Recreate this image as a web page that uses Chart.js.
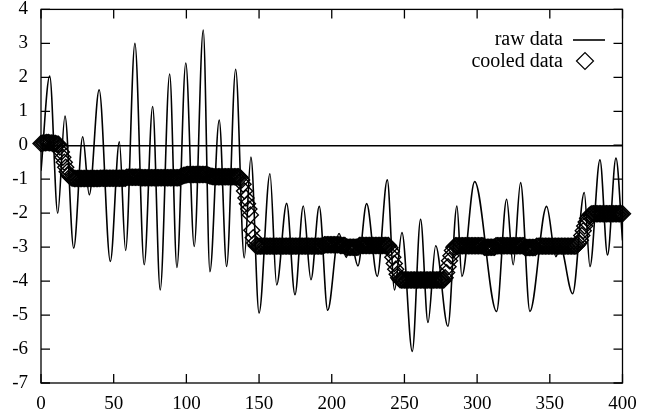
<!DOCTYPE html>
<html><head><meta charset="utf-8">
<script src="https://cdn.jsdelivr.net/npm/chart.js@4.4.1/dist/chart.umd.min.js"></script>
<style>html,body{margin:0;padding:0;background:#fff}</style>
</head><body>
<canvas id="c" width="660" height="418"></canvas>
<script>
const seriesNames = ['raw data', 'cooled data'];
const xTickLabels = [0, 50, 100, 150, 200, 250, 300, 350, 400];
const yTickLabels = [-7, -6, -5, -4, -3, -2, -1, 0, 1, 2, 3, 4];

// raw data: turning points
const rawX = [0, 6, 11.5, 16.5, 22.5, 28.7, 33.2, 40, 47.7, 53.9, 58.2, 64.6, 71, 76.8, 82, 88.5, 93.5, 99.6,
  105.4, 111.6, 116.2, 122.6, 127.7, 133.9, 139.8, 144.4, 150, 157.5, 162.1, 169, 174.7, 180.4, 185.7, 191.4,
  197.2, 205, 210, 213, 218, 224, 231.3, 238.2, 243.2, 248.3, 255.4, 261.1, 266.2, 271.5, 279.9, 286.1, 289.5,
  298.3, 313.4, 320.3, 324.8, 329.9, 336.3, 347.8, 354.2, 357, 365.7, 373.7, 377.6, 384.5, 389.7, 395.5, 400];
const rawY = [-0.75, 2.04, -2.0, 0.86, -3.03, 0.25, -1.46, 1.63, -3.42, 0.1, -3.1, 3.0, -3.52, 1.14, -4.26, 2.1, -3.6, 2.42,
  -2.98, 3.39, -3.72, 0.74, -3.57, 2.24, -3.32, -0.35, -4.94, -0.84, -4.11, -1.71, -4.4, -1.79, -3.96, -1.8,
  -4.86, -2.6, -3.3, -2.8, -3.55, -1.72, -3.86, -1.02, -4.26, -2.57, -6.07, -2.18, -5.22, -2.96, -5.33, -1.79, -3.86,
  -1.07, -4.89, -1.59, -3.52, -1.1, -4.89, -1.8, -3.28, -2.95, -4.37, -1.39, -3.57, -0.43, -3.23, -0.38, -2.8];

// cooled data: one value per x = 0..400
const cooledY = [
  0.05,0.06,0.07,0.07,0.08,0.08,0.07,0.07,0.06,0.05,0.05,0.04,0.03,
  -0.05,-0.2,-0.35,-0.5,-0.65,-0.78,-0.87,-0.93,-0.96,-0.97,-0.98,-0.98,
  -0.98,-0.98,-0.98,-0.98,-0.98,-0.98,-0.98,-0.98,-0.98,-0.98,
  -0.98,-0.98,-0.98,-0.98,-0.98,-0.98,
  -0.97,-0.97,-0.97,-0.97,-0.97,-0.97,-0.97,-0.97,-0.97,-0.97,
  -0.97,-0.97,-0.97,-0.97,-0.97,-0.97,-0.97,-0.97,
  -0.94,-0.94,-0.94,-0.94,-0.94,-0.94,-0.94,-0.94,-0.94,-0.94,
  -0.96,-0.96,-0.96,-0.96,-0.96,-0.96,-0.96,-0.96,-0.96,-0.96,
  -0.96,-0.96,-0.96,-0.96,-0.96,-0.96,-0.96,-0.96,-0.96,-0.96,
  -0.96,-0.96,-0.96,-0.96,-0.96,-0.96,-0.96,
  -0.93,-0.91,-0.89,-0.88,-0.87,
  -0.86,-0.86,-0.86,-0.86,-0.86,-0.86,-0.86,-0.86,-0.86,-0.86,
  -0.86,-0.86,-0.86,-0.86,
  -0.88,-0.9,-0.91,-0.92,-0.93,-0.93,
  -0.93,-0.93,-0.93,-0.93,-0.93,-0.93,-0.93,-0.93,-0.93,-0.93,
  -0.93,-0.93,-0.93,-0.93,-0.93,-0.93,
  -0.95,-1.02,-1.15,-1.35,-1.55,-1.72,-1.88,-2.05,-2.5,-2.72,-2.88,-2.96,
  -2.97,-2.97,-2.97,-2.97,-2.97,-2.97,-2.97,-2.97,-2.97,-2.97,
  -2.97,-2.97,-2.97,-2.97,-2.97,-2.97,-2.97,-2.97,-2.97,-2.97,
  -2.97,-2.97,-2.97,-2.97,-2.97,-2.97,-2.97,-2.97,-2.97,-2.97,
  -2.97,-2.97,-2.97,-2.97,-2.97,-2.97,-2.97,-2.97,-2.97,-2.97,
  -2.97,-2.97,-2.97,-2.97,-2.97,-2.97,
  -2.93,-2.93,-2.93,-2.93,-2.93,-2.93,-2.93,-2.93,-2.93,-2.93,
  -2.93,
  -2.95,-2.95,-2.95,-2.95,
  -3.0,-3.0,-3.0,-3.0,-3.0,-3.0,-3.0,-3.0,-3.0,
  -2.95,-2.95,-2.95,-2.95,-2.95,-2.95,-2.95,-2.95,-2.95,-2.95,
  -2.95,-2.95,-2.95,-2.95,-2.95,-2.95,-2.95,-2.95,-2.95,-2.95,
  -2.95,
  -3.02,-3.12,-3.3,-3.48,-3.65,-3.8,-3.9,-3.96,
  -3.97,-3.97,-3.97,-3.97,-3.97,-3.97,-3.97,-3.97,-3.97,-3.97,
  -3.97,-3.97,-3.97,-3.97,-3.97,-3.97,-3.97,-3.97,-3.97,-3.97,
  -3.97,-3.97,-3.97,-3.97,-3.97,-3.97,-3.97,-3.97,-3.97,-3.97,
  -3.9,-3.75,-3.58,-3.4,-3.25,-3.1,-3.0,
  -2.96,-2.96,-2.96,-2.96,-2.96,-2.96,-2.96,-2.96,-2.96,-2.96,
  -2.96,-2.96,-2.96,-2.96,-2.96,-2.96,-2.96,-2.96,-2.96,-2.96,
  -3.0,-3.0,-3.0,-3.0,-3.0,-3.0,-3.0,-3.0,
  -2.96,-2.96,-2.96,-2.96,-2.96,-2.96,-2.96,-2.96,-2.96,-2.96,
  -2.96,-2.96,-2.96,-2.96,-2.96,-2.96,-2.96,-2.96,-2.96,-2.96,
  -3.01,-3.01,-3.01,-3.01,-3.01,-3.01,-3.01,-3.01,
  -2.97,-2.97,-2.97,-2.97,-2.97,-2.97,-2.97,-2.97,-2.97,-2.97,
  -2.97,-2.97,-2.97,-2.97,-2.97,-2.97,-2.97,-2.97,-2.97,-2.97,
  -2.97,-2.97,-2.97,-2.97,-2.97,-2.97,-2.97,-2.97,
  -2.93,-2.88,-2.8,-2.66,-2.52,-2.38,-2.26,-2.15,-2.08,-2.04,
  -2.02,-2.02,-2.02,-2.02,-2.02,-2.02,-2.02,-2.02,-2.02,-2.02,
  -2.02,-2.02,-2.02,-2.02,-2.02,-2.02,-2.02,-2.02,-2.02,-2.02,
  -2.02,-2.02
];

const FONT = "'Liberation Serif', 'DejaVu Serif', serif";

const framePlugin = {
  id: 'frame',
  afterDraw(chart) {
    const {ctx, chartArea: a, scales: {x, y}} = chart;
    ctx.save();
    ctx.strokeStyle = '#000';
    ctx.lineWidth = 1.3;
    ctx.strokeRect(a.left, a.top, a.right - a.left, a.bottom - a.top);
    ctx.beginPath();
    x.ticks.forEach(t => {
      const px = x.getPixelForValue(t.value);
      ctx.moveTo(px, a.bottom); ctx.lineTo(px, a.bottom - 9);
      ctx.moveTo(px, a.top); ctx.lineTo(px, a.top + 9);
    });
    y.ticks.forEach(t => {
      const py = y.getPixelForValue(t.value);
      ctx.moveTo(a.left, py); ctx.lineTo(a.left + 9, py);
      ctx.moveTo(a.right, py); ctx.lineTo(a.right - 9, py);
    });
    ctx.stroke();
    // legend (inside plot, top right)
    ctx.fillStyle = '#000';
    ctx.font = "20px " + FONT;
    ctx.textAlign = 'right';
    ctx.textBaseline = 'middle';
    const tx = 563;
    ctx.fillText(seriesNames[0], tx, 40);
    ctx.fillText(seriesNames[1], tx, 62);
    ctx.lineWidth = 1.6;
    ctx.beginPath(); ctx.moveTo(573, 40); ctx.lineTo(605, 40); ctx.stroke();
    ctx.lineWidth = 1.2;
    ctx.fillStyle = 'rgba(0,0,0,0)';
    Chart.helpers.drawPoint(ctx, {pointStyle: 'rectRot', radius: 8.5, borderWidth: 1.2}, 585, 61);
    ctx.restore();
  }
};

new Chart(document.getElementById('c'), {
  type: 'line',
  data: {
    datasets: [
      {
        label: seriesNames[0],
        data: rawX.map((x, i) => ({x, y: rawY[i]})),
        borderColor: '#000',
        borderWidth: 1.6,
        pointRadius: 0,
        fill: false,
        cubicInterpolationMode: 'monotone',
        order: 1
      },
      {
        label: seriesNames[1],
        data: cooledY.map((y, i) => ({x: i, y})),
        showLine: false,
        pointStyle: 'rectRot',
        pointRadius: 8,
        pointBorderColor: '#000',
        pointBorderWidth: 1.4,
        pointBackgroundColor: 'rgba(0,0,0,0)',
        clip: false,
        order: 2
      }
    ]
  },
  options: {
    responsive: false,
    animation: false,
    devicePixelRatio: 1,
    layout: {padding: {left: 0, right: 37.5, top: 9.3, bottom: 0}},
    plugins: {legend: {display: false}, tooltip: {enabled: false}},
    scales: {
      x: {
        type: 'linear', min: 0, max: 400,
        afterBuildTicks: s => { s.ticks = xTickLabels.map(v => ({value: v})); },
        afterFit: s => { s.height = 35; s.paddingLeft = 0; s.paddingRight = 0; },
        ticks: {color: '#000', font: {family: FONT, size: 19}, padding: 10, maxRotation: 0},
        grid: {display: false, drawTicks: false},
        border: {display: false}
      },
      y: {
        type: 'linear', min: -7, max: 4,
        afterBuildTicks: s => { s.ticks = yTickLabels.map(v => ({value: v})); },
        afterFit: s => { s.width = 41; s.paddingTop = 0; s.paddingBottom = 0; },
        ticks: {color: '#000', font: {family: FONT, size: 19, lineHeight: 1}, padding: 13},
        grid: {
          drawTicks: false,
          color: c => (c.tick && c.tick.value === 0) ? '#000' : 'rgba(0,0,0,0)',
          lineWidth: 1.5
        },
        border: {display: false}
      }
    }
  },
  plugins: [framePlugin]
});
</script>
</body></html>
